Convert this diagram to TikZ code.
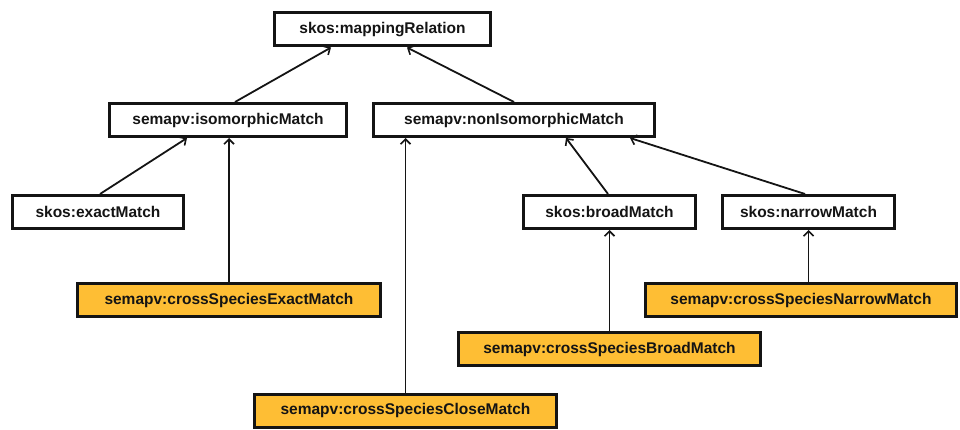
\documentclass[tikz,border=0pt]{standalone}
\usepackage{fontspec}
\setmainfont{Liberation Sans}
\usetikzlibrary{arrows.meta}
\definecolor{boxorange}{RGB}{254,190,52}
\definecolor{inkdark}{RGB}{20,20,20}
\begin{document}
\begin{tikzpicture}[x=1pt,y=-1pt,
  term/.style={draw=inkdark, line width=3pt, fill=white, inner sep=0pt,
    font=\fontsize{15.5}{18}\selectfont\bfseries, text=inkdark,
    minimum height=33pt},
  crossterm/.style={term, fill=boxorange},
  isa/.style={draw=inkdark, line width=1.8pt,
    -{Straight Barb[length=5pt,width=10pt,line width=1.6pt]}}]
\useasboundingbox (0,0) rectangle (960,430);

% concept boxes
\node[term, minimum width=216pt] (map) at (382.5,29.5) {skos:mappingRelation};
\node[term, minimum width=237pt] (iso) at (228,120) {semapv:isomorphicMatch};
\node[term, minimum width=281pt] (noniso) at (514,120) {semapv:nonIsomorphicMatch};
\node[term, minimum width=171pt] (exact) at (98,212) {skos:exactMatch};
\node[term, minimum width=172pt] (broad) at (609.5,212) {skos:broadMatch};
\node[term, minimum width=172pt] (narrow) at (808.5,212) {skos:narrowMatch};

% cross-species terms
\node[crossterm, minimum width=303pt] (csexact) at (229,300) {semapv:crossSpeciesExactMatch};
\node[crossterm, minimum width=311pt] (csnarrow) at (801,300) {semapv:crossSpeciesNarrowMatch};
\node[crossterm, minimum width=302pt] (csbroad) at (609.5,349) {semapv:crossSpeciesBroadMatch};
\node[crossterm, minimum width=302pt] (csclose) at (405.5,410.5) {semapv:crossSpeciesCloseMatch};

% subproperty links
\draw[isa] ([xshift=7pt]iso.north) -- ([xshift=-51.5pt]map.south);
\draw[isa] (noniso.north) -- ([xshift=24.5pt]map.south);
\draw[isa] ([xshift=2pt]exact.north) -- ([xshift=-41pt]iso.south);
\draw[isa] (csexact.north) -- (csexact.north |- iso.south);
\draw[isa] (csclose.north) -- (csclose.north |- noniso.south);
\draw[isa] ([xshift=-1.5pt]broad.north) -- ([xshift=52pt]noniso.south);
\draw[isa] ([xshift=-3.5pt]narrow.north) -- ([xshift=116pt]noniso.south);
\draw[isa] (broad.south |- csbroad.north) -- (broad.south);
\draw[isa] (narrow.south |- csnarrow.north) -- (narrow.south);
\end{tikzpicture}
\end{document}
